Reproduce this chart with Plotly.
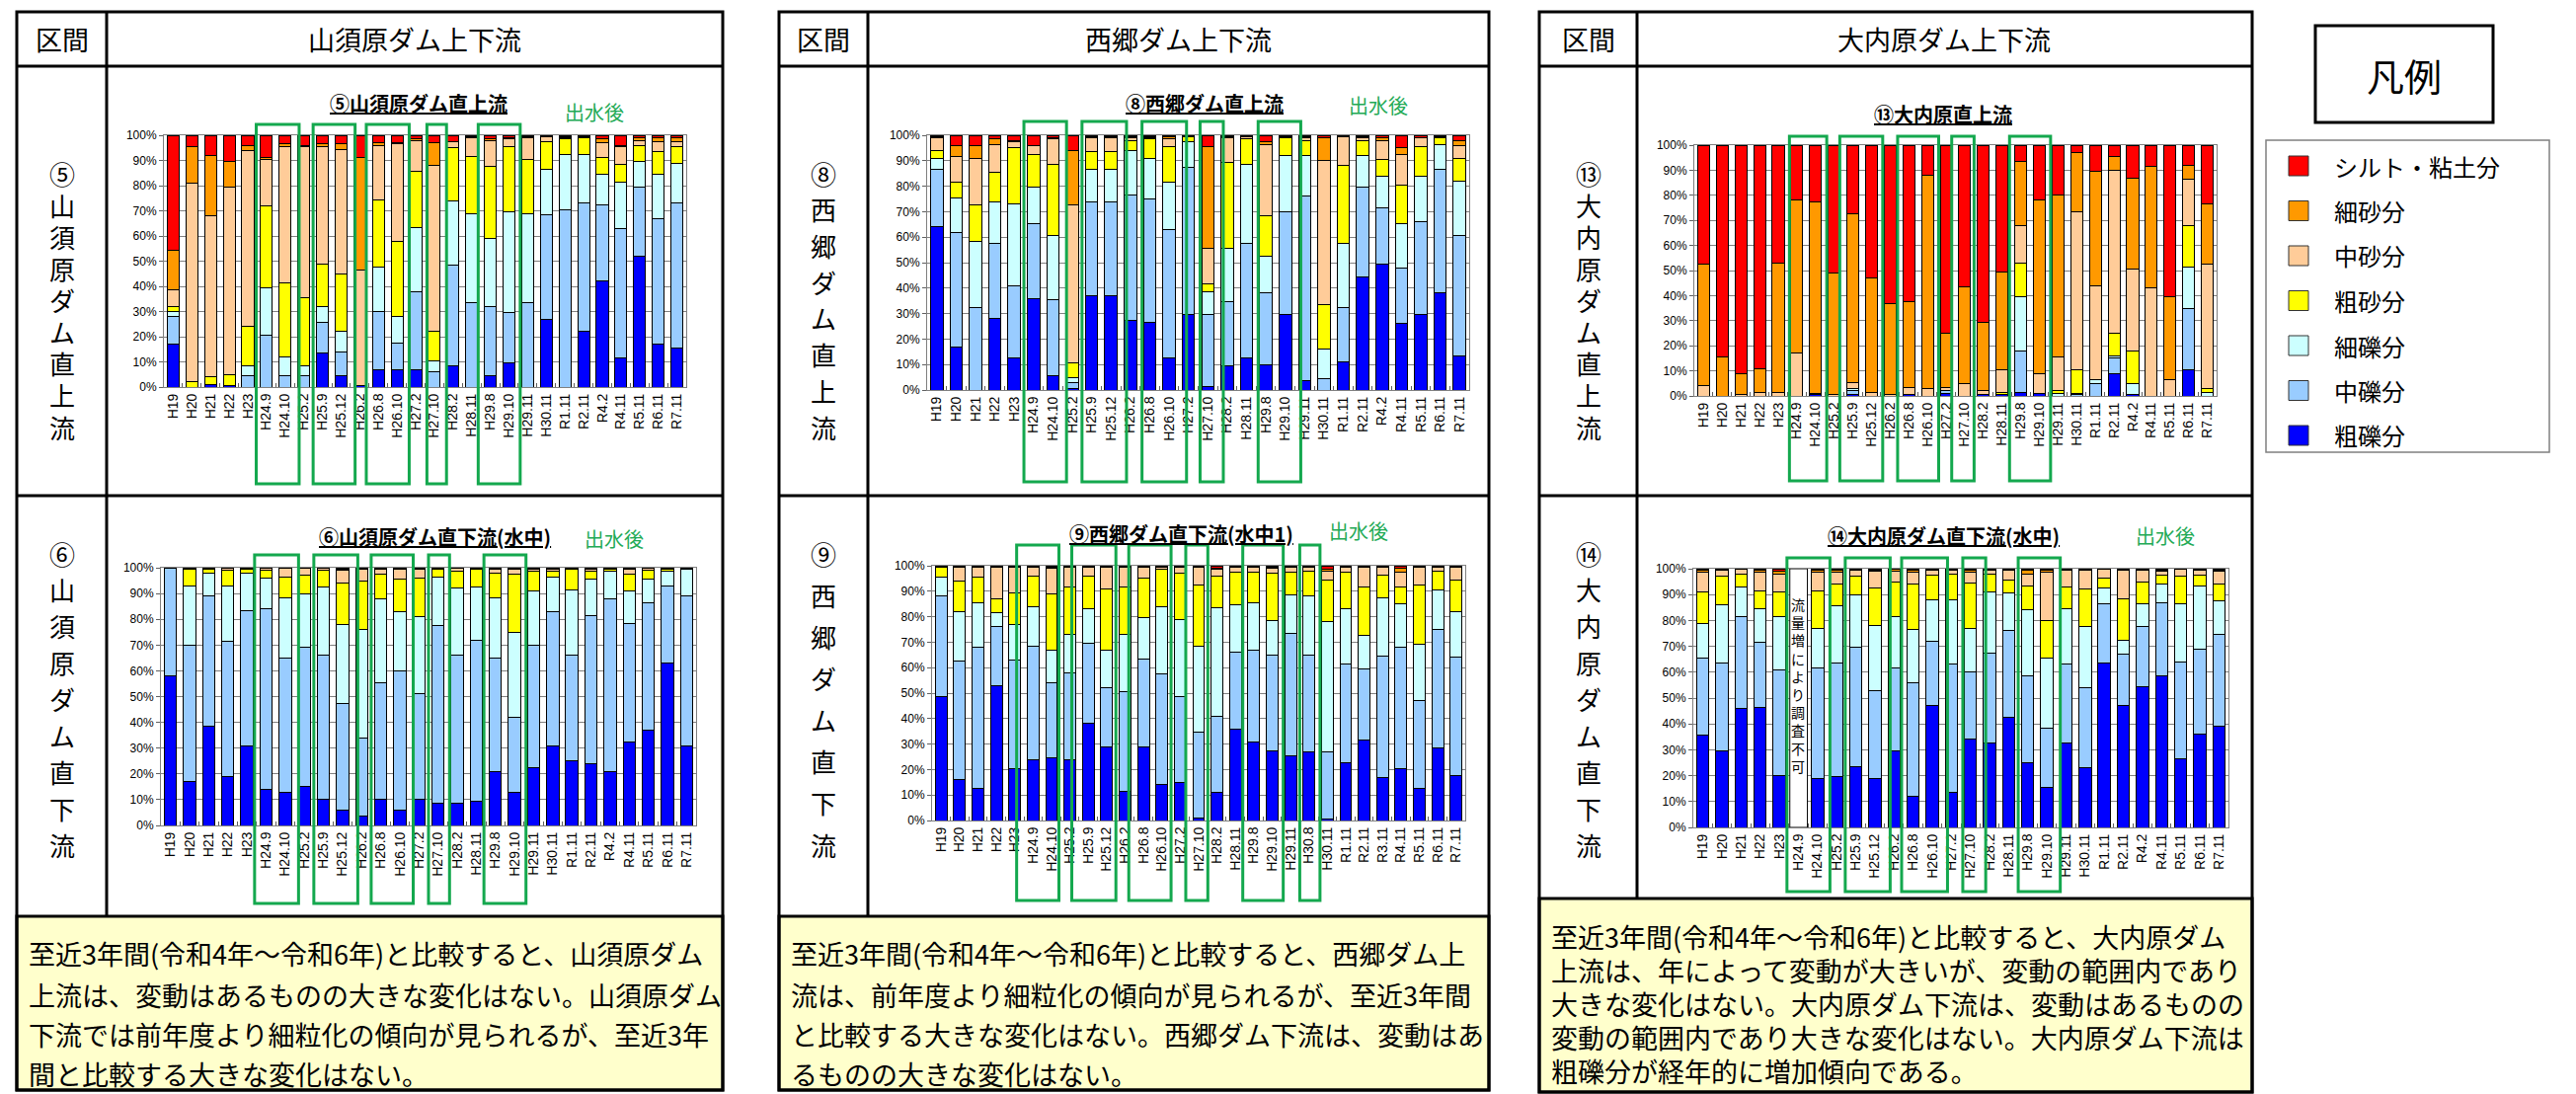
import plotly.graph_objects as go

W, H = 2609, 1108
OFF = 8                      # page body margin of the exported html
FW, FH = W - OFF, H - OFF

# ---------------- data ----------------
cats = ["H19", "H20", "H21", "H22", "H23", "H24.9", "H24.10", "H25.2", "H25.9", "H25.12",
        "H26.2", "H26.8", "H26.10", "H27.2", "H27.10", "H28.2", "H28.11", "H29.8", "H29.10",
        "H29.11", "H30.11", "R1.11", "R2.11", "R4.2", "R4.11", "R5.11", "R6.11", "R7.11"]
cats_9 = ["H19", "H20", "H21", "H22", "H23", "H24.9", "H24.10", "H25.2", "H25.9", "H25.12",
          "H26.2", "H26.8", "H26.10", "H27.2", "H27.10", "H28.2", "H28.11", "H29.8", "H29.10",
          "H29.11", "H30.8", "H30.11", "R1.11", "R2.11", "R3.11", "R4.11", "R5.11", "R6.11", "R7.11"]

series_names = ["粗礫分", "中礫分", "細礫分", "粗砂分", "中砂分", "細砂分", "シルト・粘土分"]
series_colors = ["#0000FF", "#99CCFF", "#CCFFFF", "#FFFF00", "#FFCC99", "#FF9900", "#FF0000"]

pct_ticks = [0, 10, 20, 30, 40, 50, 60, 70, 80, 90, 100]
pct_labels = ["0%", "10%", "20%", "30%", "40%", "50%", "60%", "70%", "80%", "90%", "100%"]

# ⑤ 山須原ダム直上流
c5_cgravel = [17, 0, 1, 0.5, 0, 0, 0, 0, 13.5, 4.5, 0.5, 7, 7, 7, 0, 8.5, 0, 4.5, 9.5, 0, 27, 0, 22, 42, 11.5, 52, 17, 15.5]
c5_mgravel = [11, 0, 0, 0, 4.5, 20.5, 4.5, 4.5, 12, 9.5, 0, 23, 10.5, 31, 6, 40, 33.5, 27.5, 20, 33.5, 41.5, 70.5, 51, 30.5, 51.5, 27.5, 50, 57.5]
c5_fgravel = [2, 0, 0, 0, 4, 19, 7.5, 4, 6.5, 8, 0, 17.5, 10.5, 25.5, 4.5, 25.5, 35.5, 27, 40, 35.5, 18, 22, 19.5, 12, 18.5, 10, 17.5, 16]
c5_csand = [2, 2, 3, 4.5, 15.5, 32.5, 29.5, 27, 17, 23, 0, 27, 30, 22, 11.5, 21, 22.5, 28.5, 26, 21.5, 11, 6, 6.5, 6.5, 7, 6.5, 9, 6.5]
c5_msand = [6.5, 79, 64, 74.5, 70, 18.5, 54, 60, 46.5, 49.5, 46, 21.5, 38.5, 12.5, 66, 2.5, 7.5, 10.5, 3, 8.5, 2, 0.5, 0, 6, 7, 2, 4, 2]
c5_fsand = [16, 14.5, 24, 10, 2, 0.5, 1, 0.5, 1, 2, 44.5, 1, 0.5, 0.5, 9, 0, 0.5, 0.5, 0.5, 0.5, 0, 0.5, 0.5, 1.5, 0.5, 1, 1.5, 1.5]
c5_silt = [45.5, 4.5, 8, 10.5, 4, 9, 3.5, 4, 3.5, 3.5, 9, 3, 3, 1.5, 3, 2.5, 0.5, 1.5, 1, 0.5, 0.5, 0.5, 0.5, 1.5, 4, 1, 1, 1]

# ⑥ 山須原ダム直下流(水中)
c6_cgravel = [58, 17, 38.5, 19, 31, 14, 13, 15, 10, 6, 3.5, 10, 6, 10, 8.5, 8.5, 9.5, 21, 13, 22.5, 31, 25, 24, 21, 32.5, 37, 63, 31]
c6_mgravel = [42, 53, 50.5, 52.5, 52.5, 70, 52, 54, 56, 41.5, 30.5, 45.5, 54, 41, 69, 57.5, 62.5, 44, 29, 47.5, 52, 41, 57.5, 67, 46, 49.5, 30, 58]
c6_fgravel = [0, 23, 9, 21.5, 14.5, 12, 23.5, 21, 26.5, 30.5, 42, 32.5, 23, 30, 19, 26, 20.5, 23.5, 33, 21, 13.5, 25.5, 14, 10.5, 12.5, 9, 5.5, 10.5]
c6_csand = [0, 6.5, 1.5, 6, 1.5, 3, 8, 7, 6.5, 16, 19, 9.5, 12.5, 15, 3, 6.5, 7, 9.5, 22.5, 7.5, 2, 8, 3, 1, 6.5, 3.5, 1, 0]
c6_msand = [0, 0.5, 0.5, 1, 0.5, 1, 3.5, 3, 1, 5, 4.5, 2, 4, 3.5, 0.5, 1.5, 0.5, 1.5, 2, 1, 1, 0.5, 1, 0.5, 2, 1, 0.5, 0]
c6_fsand = [0, 0, 0, 0, 0, 0, 0, 0, 0, 0.5, 0.5, 0.5, 0.5, 0.5, 0, 0, 0, 0.5, 0.5, 0.5, 0.5, 0, 0.5, 0, 0.5, 0, 0, 0.5]
c6_silt = [0, 0, 0, 0, 0, 0, 0, 0, 0, 0.5, 0, 0, 0, 0, 0, 0, 0, 0, 0, 0, 0, 0, 0, 0, 0, 0, 0, 0]

# ⑧ 西郷ダム直上流
c8_cgravel = [64, 17, 0, 28, 12.5, 36, 5.5, 0.5, 37, 37, 27.5, 26.5, 12.5, 29.5, 1.5, 9.5, 12.5, 10, 29.5, 3.5, 0, 11, 44.5, 49.5, 26, 29.5, 38, 13.5]
c8_mgravel = [22.5, 45, 32.5, 29.5, 28.5, 29.5, 30, 2.5, 37, 37, 49, 48.5, 50.5, 58, 28, 25, 45, 28, 40.5, 72.5, 4.5, 21.5, 35, 22, 22, 36.5, 48.5, 47]
c8_fgravel = [4.5, 13.5, 26, 16.5, 32, 14, 25, 2, 12.5, 12.5, 17.5, 16, 18.5, 10, 9, 21, 31, 14.5, 22, 16, 11.5, 25, 12.5, 12.5, 17.5, 18, 10, 21.5]
c8_csand = [3, 6, 14, 11.5, 22, 13, 28, 5.5, 7, 7, 4, 7.5, 14, 2, 3, 34, 10, 16, 7, 6, 17.5, 30.5, 6, 6.5, 15, 11.5, 2.5, 9]
c8_msand = [5, 10, 18.5, 11, 2.5, 3.5, 10, 62, 5.5, 5.5, 1, 0.5, 3, 0.5, 14, 9.5, 1, 28, 0.5, 1, 56.5, 11.5, 1, 7.5, 12, 3.5, 0.5, 5]
c8_fsand = [0.5, 4.5, 5, 2, 0.5, 0, 0.5, 21.5, 0.5, 0.5, 0.5, 0.5, 1, 0, 40, 0.5, 0, 1, 0, 0.5, 9, 0.5, 0.5, 1, 2.5, 0, 0.5, 2]
c8_silt = [0.5, 4, 4, 1.5, 2, 4, 1, 6, 0.5, 0.5, 0.5, 0.5, 0.5, 0, 4.5, 0.5, 0.5, 2.5, 0.5, 0.5, 1, 0, 0.5, 1, 5, 1, 0, 2]

# ⑨ 西郷ダム直下流(水中1)
c9_cgravel = [48.5, 16, 12.5, 53, 20.5, 24, 24.5, 24, 38, 29, 11.5, 29, 14, 15, 1, 11, 36, 31, 27.5, 25.5, 27, 0.5, 22.5, 31.5, 17, 20.5, 12.5, 28.5, 17.5]
c9_mgravel = [39.5, 46.5, 55.5, 23, 42.5, 44.5, 29.5, 34, 31.5, 23, 39, 34.5, 43.5, 33.5, 33.5, 30, 30, 36, 37.5, 48, 38, 26.5, 39, 28, 47.5, 47.5, 34.5, 46.5, 46.5]
c9_fgravel = [7.5, 19.5, 17.5, 5.5, 14, 15.5, 13, 15, 13.5, 15, 22.5, 16, 26.5, 30.5, 34, 42.5, 18.5, 18.5, 13.5, 15, 23, 51, 21.5, 13, 23, 17, 22, 15.5, 18]
c9_csand = [4, 12, 10, 5.5, 12.5, 12, 22, 18.5, 13, 24, 18.5, 15.5, 14.5, 18, 24, 12.5, 13, 12, 18.5, 9, 10, 16.5, 14.5, 19, 9, 6.5, 23.5, 7.5, 12.5]
c9_msand = [0.5, 5.5, 4, 12.5, 10, 3.5, 10, 8, 3.5, 8.5, 8, 4.5, 1, 2.5, 7, 2.5, 2, 2, 2, 2, 1.5, 3.5, 2, 8, 3, 6, 7, 1.5, 5]
c9_fsand = [0, 0.5, 0.5, 0.5, 0.5, 0.5, 0.5, 0.5, 0.5, 0.5, 0.5, 0.5, 0.5, 0.5, 0.5, 0.5, 0.5, 0.5, 0.5, 0.5, 0.5, 0.5, 0.5, 0.5, 0.5, 1.5, 0.5, 0.5, 0.5]
c9_silt = [0, 0, 0, 0, 0, 0, 0.5, 0, 0, 0, 0, 0, 0, 0, 0, 1, 0, 0, 0.5, 0, 0, 1.5, 0, 0, 0, 1, 0, 0, 0]

# ⑬ 大内原直上流
c13_cgravel = [0, 0, 0, 0, 0, 0, 0.5, 0, 0.5, 0, 0, 0.5, 0, 1, 0, 0.5, 0.5, 1.5, 1, 0, 0, 0, 9, 0.5, 0, 0, 10.5, 0]
c13_mgravel = [0, 0, 0, 0, 0, 0, 0, 0, 1.5, 0, 0, 0, 0, 1, 0, 0, 0, 16.5, 0, 0, 0.5, 5, 6, 0, 0, 0, 24.5, 0]
c13_fgravel = [0, 0, 0, 0, 0, 0, 0, 0, 1, 0, 0, 0, 0, 0, 0, 0, 0, 21.5, 0, 1, 0.5, 1.5, 1, 4.5, 0, 0, 16.5, 1.5]
c13_csand = [0, 0, 0, 0, 0, 0, 0, 0, 0, 0, 0, 0, 0, 0, 0, 0, 1, 13.5, 0, 1, 9.5, 0, 9, 13, 0, 0, 16.5, 1.5]
c13_msand = [4, 0, 0.5, 1.5, 1.5, 17, 0.5, 0.5, 2.5, 1.5, 0.5, 3, 3, 1.5, 5, 1.5, 9, 15, 8, 13.5, 63, 37.5, 65, 32.5, 43, 6.5, 18.5, 49.5]
c13_fsand = [48.5, 15.5, 8.5, 9.5, 51.5, 61, 76.5, 48.5, 67, 45.5, 36.5, 34, 85, 21.5, 38.5, 27.5, 39, 25.5, 69, 64.5, 23.5, 45.5, 5.5, 36.5, 48.5, 33, 5.5, 24]
c13_silt = [47.5, 84.5, 91, 89, 47, 22, 22.5, 51, 27.5, 53, 63, 62.5, 12, 75, 56.5, 70.5, 50.5, 6.5, 22, 20, 3, 10.5, 4.5, 13, 8.5, 60.5, 8, 23.5]

# ⑭ 大内原ダム直下流(水中)  (H24.9: 流量増により調査不可)
c14_cgravel = [35.5, 29.5, 46, 46.5, 20, None, 19, 19.5, 23.5, 19, 29.5, 12, 47, 13.5, 34, 32.5, 42.5, 25, 15.5, 32.5, 23, 63.5, 47, 54.5, 58.5, 26.5, 36, 39]
c14_mgravel = [30, 34, 35.5, 25, 41, None, 42.5, 44, 46, 34, 32, 44, 25, 49.5, 26, 35, 33.5, 33.5, 23, 30.5, 31, 23, 20, 23, 28.5, 37.5, 33, 35.5]
c14_fgravel = [13.5, 22.5, 11.5, 13, 20.5, None, 15.5, 22, 20.5, 25, 20, 20.5, 16, 25, 17, 23.5, 14.5, 25.5, 27, 21.5, 23.5, 6, 5.5, 9, 7, 22.5, 24.5, 13]
c14_csand = [12, 11, 5, 7, 9.5, None, 14.5, 8.5, 7, 14.5, 13.5, 17.5, 9.5, 10, 17.5, 7, 5, 9.5, 14.5, 8.5, 14.5, 4, 16, 8.5, 3.5, 10.5, 4, 6.5]
c14_msand = [7.5, 2.5, 2, 7, 7, None, 7, 4.5, 2.5, 6.5, 4, 4.5, 2, 1.5, 4, 1.5, 4, 4.5, 18.5, 6.5, 7.5, 3.5, 11, 4.5, 1.5, 3, 2, 5]
c14_fsand = [1, 0.5, 0, 1, 1, None, 1, 1, 0.5, 0.5, 1, 1, 0.5, 0.5, 1, 0.5, 0.5, 1.5, 1, 0.5, 0.5, 0, 0.5, 0.5, 0.5, 0, 0.5, 0.5]
c14_silt = [0.5, 0, 0, 0.5, 1, None, 0.5, 0.5, 0, 0.5, 0, 0.5, 0, 0, 0.5, 0, 0, 0.5, 0.5, 0, 0, 0, 0, 0, 0.5, 0, 0, 0.5]


# ---------------- layout helpers (reference pixels -> paper) ----------------
def px(x):
    return (x - OFF) / FW


def py(y):
    return 1 - (y - OFF) / FH


JP = "Noto Sans CJK JP"
LAT = "Liberation Sans, Arial, sans-serif"
NARROW = "Liberation Sans Narrow, Arial Narrow, Liberation Sans, Arial"
GREEN = "#14A84E"

charts = [
    dict(data=[c5_cgravel, c5_mgravel, c5_fgravel, c5_csand, c5_msand, c5_fsand, c5_silt], cats=cats,
         box=(166, 695, 137, 392), title="⑤山須原ダム直上流", tpos=(424, 105), flood=(602, 113),
         groups=[(4.45, 6.75), (7.5, 9.75), (10.35, 12.65), (13.6, 14.65), (16.35, 18.6)], gy=(126, 490)),
    dict(data=[c6_cgravel, c6_mgravel, c6_fgravel, c6_csand, c6_msand, c6_fsand, c6_silt], cats=cats,
         box=(163, 705, 575, 836), title="⑥山須原ダム直下流(水中)", tpos=(440, 543), flood=(622, 545),
         groups=[(4.4, 6.7), (7.5, 9.8), (10.5, 12.7), (13.5, 14.6), (16.4, 18.6)], gy=(562, 915)),
    dict(data=[c8_cgravel, c8_mgravel, c8_fgravel, c8_csand, c8_msand, c8_fsand, c8_silt], cats=cats,
         box=(939, 1488, 137, 395), title="⑧西郷ダム直上流", tpos=(1220, 105), flood=(1396, 107),
         groups=[(4.5, 6.7), (7.5, 9.8), (10.6, 12.9), (13.6, 14.8), (16.6, 18.8)], gy=(123, 488)),
    dict(data=[c9_cgravel, c9_mgravel, c9_fgravel, c9_csand, c9_msand, c9_fsand, c9_silt], cats=cats_9,
         box=(944, 1484, 573, 831), title="⑨西郷ダム直下流(水中1)", tpos=(1196, 540), flood=(1376, 537),
         groups=[(4.1, 6.4), (7.1, 9.5), (10.2, 12.5), (13.3, 14.5), (16.4, 18.6), (19.5, 20.6)], gy=(552, 912)),
    dict(data=[c13_cgravel, c13_mgravel, c13_fgravel, c13_csand, c13_msand, c13_fsand, c13_silt], cats=cats,
         box=(1716, 2245, 147, 401), title="⑬大内原直上流", tpos=(1968, 115), flood=None,
         groups=[(4.6, 6.6), (7.3, 9.6), (10.4, 12.6), (13.3, 14.5), (16.4, 18.6)], gy=(138, 487)),
    dict(data=[c14_cgravel, c14_mgravel, c14_fgravel, c14_csand, c14_msand, c14_fsand, c14_silt], cats=cats,
         box=(1715, 2257, 576, 838), title="⑭大内原ダム直下流(水中)", tpos=(1968, 542), flood=(2193, 542),
         groups=[(4.4, 6.65), (7.45, 9.8), (10.4, 12.8), (13.6, 14.8), (16.5, 18.7)], gy=(565, 903)),
]

fig = go.Figure()
shapes = []
annotations = []
layout_axes = {}


def note(x, y, text, size, color="black", xa="center", ya="middle", **font_extra):
    annotations.append(dict(x=px(x), y=py(y), xref="paper", yref="paper", text=text,
                            showarrow=False, xanchor=xa, yanchor=ya,
                            font=dict(family=JP, size=size, color=color, **font_extra)))


def line(x0, y0, x1, y1, width=3, color="black"):
    shapes.append(dict(type="line", xref="paper", yref="paper", x0=px(x0), x1=px(x1),
                       y0=py(y0), y1=py(y1), line=dict(color=color, width=width), layer="above"))


for i, ch in enumerate(charts, start=1):
    sfx = "" if i == 1 else str(i)
    x0, x1, y0, y1 = ch["box"]
    for name, color, vals in zip(series_names, series_colors, ch["data"]):
        fig.add_trace(go.Bar(
            x=ch["cats"], y=vals, name=name, marker_color=color,
            marker_line_color="black", marker_line_width=1,
            xaxis="x" + sfx, yaxis="y" + sfx, showlegend=False,
            hovertemplate="%{x}<br>" + name + ": %{y}%<extra></extra>"))
    layout_axes["xaxis" + sfx] = dict(
        domain=[px(x0), px(x1)], anchor="y" + sfx, type="category",
        categoryorder="array", categoryarray=ch["cats"], range=[-0.5, len(ch["cats"]) - 0.5],
        tickangle=-90, tickfont=dict(family=LAT, size=14, color="black"),
        showline=True, linecolor="#808080", linewidth=1, mirror=True,
        ticks="inside", tickson="boundaries", ticklen=4, tickcolor="#606060",
        showgrid=False, automargin=False, fixedrange=True)
    layout_axes["yaxis" + sfx] = dict(
        domain=[py(y1), py(y0)], anchor="x" + sfx, range=[0, 100],
        tickvals=pct_ticks, ticktext=pct_labels, tickfont=dict(family=NARROW, size=12, color="black"),
        showgrid=True, gridcolor="#808080", gridwidth=1, zeroline=False,
        showline=True, linecolor="#808080", linewidth=1, mirror=True,
        ticks="outside", ticklen=4, tickcolor="#606060", automargin=False, fixedrange=True)

    note(ch["tpos"][0], ch["tpos"][1], ch["title"], 20, weight="bold", lineposition="under")
    if ch["flood"]:
        note(ch["flood"][0], ch["flood"][1], "出水後", 20, color="#22AA55")

    # green boxes around post-flood surveys
    gt, gb = ch["gy"]
    for a, b in ch["groups"]:
        shapes.append(dict(type="rect", xref="x" + sfx, yref="paper", x0=a, x1=b,
                           y0=py(gb), y1=py(gt), line=dict(color=GREEN, width=3),
                           fillcolor="rgba(0,0,0,0)", layer="above"))

# H24.9 of ⑭ could not be surveyed
shapes.append(dict(type="rect", xref="x6", yref="y6", x0=4.55, x1=5.47, y0=0, y1=100,
                   fillcolor="white", line=dict(color="black", width=1), layer="above"))
annotations.append(dict(x=5.0, y=55, xref="x6", yref="y6", showarrow=False,
                        xanchor="center", yanchor="middle",
                        text="<br>".join("流量増により調査不可"),
                        font=dict(family=JP, size=14, color="black")))

# ---------------- table frames ----------------
panels = [
    dict(x0=17, xc=108, x1=732, tb=928, bottom=1104, head="山須原ダム上下流",
         lab1="⑤山須原ダム直上流", lab2="⑥山須原ダム直下流",
         lines=["至近3年間(令和4年～令和6年)と比較すると、山須原ダム",
                "上流は、変動はあるものの大きな変化はない。山須原ダム",
                "下流では前年度より細粒化の傾向が見られるが、至近3年",
                "間と比較する大きな変化はない。"],
         ly=[966, 1007, 1047, 1087]),
    dict(x0=789, xc=879, x1=1508, tb=928, bottom=1104, head="西郷ダム上下流",
         lab1="⑧西郷ダム直上流", lab2="⑨西郷ダム直下流",
         lines=["至近3年間(令和4年～令和6年)と比較すると、西郷ダム上",
                "流は、前年度より細粒化の傾向が見られるが、至近3年間",
                "と比較する大きな変化はない。西郷ダム下流は、変動はあ",
                "るものの大きな変化はない。"],
         ly=[966, 1007, 1047, 1087]),
    dict(x0=1559, xc=1658, x1=2281, tb=910, bottom=1106, head="大内原ダム上下流",
         lab1="⑬大内原ダム直上流", lab2="⑭大内原ダム直下流",
         lines=["至近3年間(令和4年～令和6年)と比較すると、大内原ダム",
                "上流は、年によって変動が大きいが、変動の範囲内であり",
                "大きな変化はない。大内原ダム下流は、変動はあるものの",
                "変動の範囲内であり大きな変化はない。大内原ダム下流は",
                "粗礫分が経年的に増加傾向である。"],
         ly=[948, 982, 1016, 1050, 1084]),
]

TOP, HEAD_B, ROW_B = 12, 67, 502
for p in panels:
    shapes.append(dict(type="rect", xref="paper", yref="paper", x0=px(p["x0"]), x1=px(p["x1"]),
                       y0=py(p["bottom"]), y1=py(p["tb"]), fillcolor="#FFFFCC",
                       line=dict(color="black", width=3), layer="below"))
    shapes.append(dict(type="rect", xref="paper", yref="paper", x0=px(p["x0"]), x1=px(p["x1"]),
                       y0=py(p["bottom"]), y1=py(TOP), line=dict(color="black", width=3),
                       fillcolor="rgba(0,0,0,0)", layer="above"))
    line(p["x0"], HEAD_B, p["x1"], HEAD_B)
    line(p["x0"], ROW_B, p["x1"], ROW_B)
    line(p["xc"], TOP, p["xc"], p["tb"])
    xm = (p["x0"] + p["xc"]) / 2
    note(xm, 40, "区間", 27)
    note((p["xc"] + p["x1"]) / 2, 40, p["head"], 27)
    # vertical labels of the left column, one character per line
    for lab, ystart, yend in [(p["lab1"], 175, 432), (p["lab2"], 560, 855)]:
        step = (yend - ystart) / (len(lab) - 1)
        for k, chr_ in enumerate(lab):
            note(xm, ystart + k * step, chr_, 26)
    for txt, yy in zip(p["lines"], p["ly"]):
        note(p["x0"] + 10, yy, txt, 27, xa="left")

# ---------------- legend ----------------
shapes.append(dict(type="rect", xref="paper", yref="paper", x0=px(2345), x1=px(2525),
                   y0=py(124), y1=py(26), line=dict(color="black", width=3)))
note(2435, 76, "凡例", 38)
shapes.append(dict(type="rect", xref="paper", yref="paper", x0=px(2295), x1=px(2582),
                   y0=py(458), y1=py(142), line=dict(color="#808080", width=1.5)))
for k, (name, color) in enumerate(reversed(list(zip(series_names, series_colors)))):
    yc = 168 + 45.5 * k
    shapes.append(dict(type="rect", xref="paper", yref="paper", x0=px(2318), x1=px(2338),
                       y0=py(yc + 10), y1=py(yc - 10), fillcolor=color,
                       line=dict(color="#333333", width=1)))
    note(2362, yc, name, 24, xa="left")

fig.update_layout(
    width=FW, height=FH, margin=dict(l=0, r=0, t=0, b=0),
    paper_bgcolor="white", plot_bgcolor="white",
    barmode="stack", bargap=0.36, showlegend=False,
    shapes=shapes, annotations=annotations, **layout_axes)

fig.write_html("out.html")
